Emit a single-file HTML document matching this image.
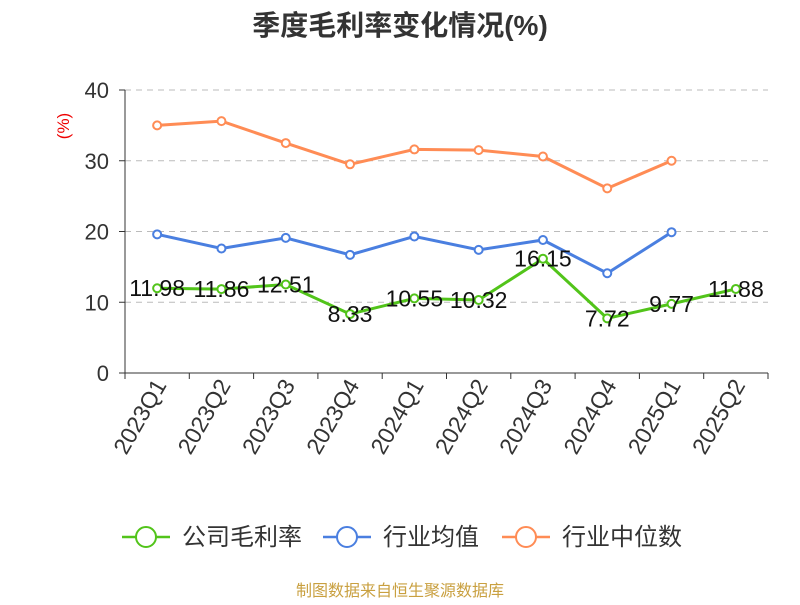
<!DOCTYPE html>
<html><head><meta charset="utf-8"><style>body{margin:0;background:#fff}svg{font-family:"Liberation Sans","Noto Sans CJK SC",sans-serif}</style></head>
<body>
<svg id="c" width="800" height="600">
<text x="400" y="35" text-anchor="middle" font-size="28" font-weight="bold" fill="#333">季度毛利率变化情况(%)</text>
<text transform="translate(69,126) rotate(-90)" text-anchor="middle" font-size="17" fill="#e00">(%)</text>
<g id="plot"></g>
<g>
<g><line x1="122" y1="537" x2="170" y2="537" stroke="#52c41a" stroke-width="2.5"/><circle cx="146" cy="537" r="10" fill="#fff" stroke="#52c41a" stroke-width="2"/><text x="182" y="545" font-size="24" fill="#333">公司毛利率</text></g>
<g><line x1="323" y1="537" x2="371" y2="537" stroke="#4a7fe0" stroke-width="2.5"/><circle cx="347" cy="537" r="10" fill="#fff" stroke="#4a7fe0" stroke-width="2"/><text x="383" y="545" font-size="24" fill="#333">行业均值</text></g>
<g><line x1="502" y1="537" x2="550" y2="537" stroke="#ff8c55" stroke-width="2.5"/><circle cx="526" cy="537" r="10" fill="#fff" stroke="#ff8c55" stroke-width="2"/><text x="562" y="545" font-size="24" fill="#333">行业中位数</text></g>
</g>
<text x="400" y="596" text-anchor="middle" font-size="16" fill="#c9a040">制图数据来自恒生聚源数据库</text>
</svg>
<script>
const categories=["2023Q1","2023Q2","2023Q3","2023Q4","2024Q1","2024Q2","2024Q3","2024Q4","2025Q1","2025Q2"];
const companyValues=[11.98,11.86,12.51,8.33,10.55,10.32,16.15,7.72,9.77,11.88];
const industryAvg=[19.6,17.6,19.1,16.7,19.3,17.4,18.8,14.1,19.9];
const industryMedian=[35.0,35.6,32.5,29.5,31.6,31.5,30.6,26.1,30.0];
const yTicks=[0,10,20,30,40];
const NS="http://www.w3.org/2000/svg";
const g=document.getElementById('plot');
const L=125,R=768,T=90,B=373,ymax=40;
const bw=(R-L)/categories.length;
const x=i=>L+bw*(i+0.5);
const y=v=>B-(v/ymax)*(B-T);
function el(t,a,p){const e=document.createElementNS(NS,t);for(const k in a)e.setAttribute(k,a[k]);(p||g).appendChild(e);return e;}
yTicks.forEach(t=>{
 if(t>0){const l=el('line',{x1:L,x2:R,y1:y(t),y2:y(t),stroke:'#bbb','stroke-dasharray':'6,5'});
 
 }
 const k=el('line',{x1:L-6,x2:L,y1:y(t),y2:y(t),stroke:'#333'});
 
 
 const tx=el('text',{x:L-16,y:y(t)+8,'text-anchor':'end','font-size':22,fill:'#333'});tx.textContent=t;
 
 
});
const ya=el('line',{x1:L,x2:L,y1:T,y2:B,stroke:'#333'});


const xa=el('line',{x1:L,x2:R,y1:B,y2:B,stroke:'#333'});


for(let i=0;i<=categories.length;i++){const k=el('line',{x1:L+bw*i,x2:L+bw*i,y1:B,y2:B+6,stroke:'#333'});
 
 }
categories.forEach((c,i)=>{const t=el('text',{transform:`translate(${x(i)+10},${B+12}) rotate(-60)`,'text-anchor':'end','font-size':23,fill:'#333'});t.textContent=c;
 
 });
function series(vals,color,name,labels){
 const p=el('polyline',{points:vals.map((v,i)=>x(i)+','+y(v)).join(' '),fill:'none',stroke:color,'stroke-width':3});
 
 
 vals.forEach((v,i)=>{const c=el('circle',{cx:x(i),cy:y(v),r:4,fill:'#fff',stroke:color,'stroke-width':2});
  
  
  if(labels){const t=el('text',{x:x(i),y:y(v)+8,'text-anchor':'middle','font-size':23,fill:'#111'});t.textContent=v.toFixed(2);
   
   }
 });
}
series(industryMedian,'#ff8c55','industry-median',false);
series(industryAvg,'#4a7fe0','industry-avg',false);
series(companyValues,'#52c41a','company',true);
</script>
</body></html>
